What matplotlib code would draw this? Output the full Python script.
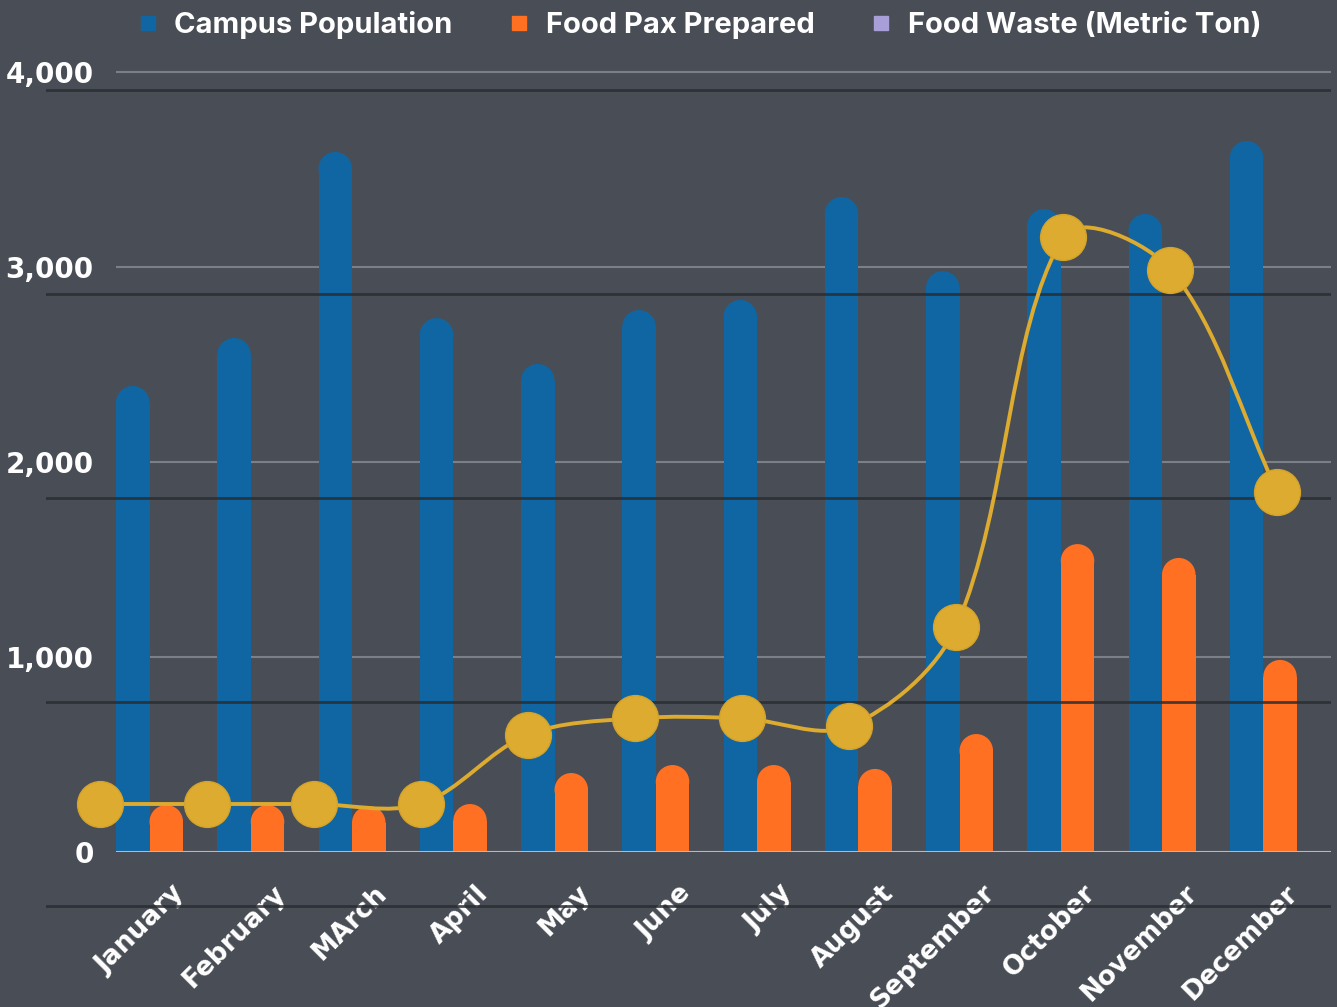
import matplotlib
matplotlib.use("Agg")
import matplotlib.pyplot as plt
from matplotlib.patches import Ellipse
from matplotlib.path import Path
from matplotlib.patches import PathPatch
from matplotlib.lines import Line2D

# data
months = ['January', 'February', 'MArch', 'April', 'May', 'June', 'July',
          'August', 'September', 'October', 'November', 'December']
campus_population = [2390, 2636, 3590, 2738, 2503, 2779, 2831, 3359, 2979, 3297, 3272, 3646]
food_pax = [241, 241, 236, 246, 405, 446, 446, 426, 605, 1579, 1508, 985]
food_waste = [0.50, 0.50, 0.50, 0.50, 0.84, 0.92, 0.92, 0.88, 1.37, 3.28, 3.12, 2.03]

bg = '#494e56'
blue = '#0f66a3'
orange = '#ff7022'
gold = '#dcab2f'
lavender = '#a99fd8'

W, H = 1337, 1007
fig = plt.figure(figsize=(W / 100, H / 100), dpi=100, facecolor=bg)

def px_axes(left, right, y_top, y_bottom):
    return [left / W, 1 - y_bottom / H, (right - left) / W, (y_bottom - y_top) / H]

# primary axes (bars): 0 at y=852px, 4000 at y=72px
ppu = 780 / 4000
y_hi = 4060
ax = fig.add_axes(px_axes(116, 1331, 852 - y_hi * ppu, 852))
ax.set_facecolor('none')
ax.set_xlim(0, 12)
ax.set_ylim(0, y_hi)

bw = 0.331
r_data = (bw * 1215 / 12 / 2) / ppu  # half bar width in px -> data units


def rounded_bars(xs, vals, color):
    bars = ax.bar(xs, [v - r_data for v in vals], width=bw, align='edge',
                  color=color, linewidth=0, zorder=2)
    for b, v in zip(bars, vals):
        cx = b.get_x() + b.get_width() / 2
        ax.add_patch(Ellipse((cx, v - r_data), b.get_width(), 2 * r_data,
                             facecolor=color, edgecolor='none', zorder=2))
    return bars


idx = list(range(len(months)))
rounded_bars([i for i in idx], campus_population, blue)
rounded_bars([i + bw for i in idx], food_pax, orange)

ax.set_yticks([0, 1000, 2000, 3000, 4000])
ax.set_yticklabels(['0', '1,000', '2,000', '3,000', '4,000'])
ax.yaxis.grid(True, color='#7c8086', linewidth=1.5, zorder=0)
ax.set_axisbelow(True)
ax.axhline(0, color='#b9b9bb', linewidth=2.2, zorder=3)
ax.set_xticks([i + 0.5 + 0.14 for i in idx])
ax.set_xticklabels(months, rotation=45, ha='right', va='center',
                   rotation_mode='anchor')
ax.tick_params(axis='both', length=0, colors='white')
ax.tick_params(axis='y', pad=16, labelsize=20)
ax.tick_params(axis='x', pad=27, labelsize=19)
for lab in ax.get_xticklabels() + ax.get_yticklabels():
    lab.set_fontweight('heavy')
    lab.set_family('DejaVu Sans')
for s in ax.spines.values():
    s.set_visible(False)

# secondary axes (line): 0 at y=906px, 4 at y=90px
ppu2 = 204
lo2, hi2 = -0.2, 4.2
ax2 = fig.add_axes(px_axes(46, 1331, 906 - hi2 * ppu2, 906 - lo2 * ppu2))
ax2.set_facecolor('none')
ax2.set_xlim(-0.5, 11.5)
ax2.set_ylim(lo2, hi2)
ax2.set_yticks([0, 1, 2, 3, 4])
ax2.yaxis.grid(True, color='#2a2d31', linewidth=2, alpha=0.85, zorder=0)
ax2.set_xticks([])
ax2.tick_params(axis='y', length=0, labelleft=False)
for s in ax2.spines.values():
    s.set_visible(False)

# smoothed line through the points: cubic bezier with tangents scaled by
# neighbouring segment lengths (measured in screen pixels)
sx = (1331 - 46) / 12.0
sy = float(ppu2)
pts = [(x * sx, y * sy) for x, y in zip(idx, food_waste)]
n = len(pts)
t = 1.0 / 3.0
c_in, c_out = [], []
for i in range(n):
    p0 = pts[max(i - 1, 0)]
    p1 = pts[i]
    p2 = pts[min(i + 1, n - 1)]
    d01 = ((p1[0] - p0[0]) ** 2 + (p1[1] - p0[1]) ** 2) ** 0.5
    d12 = ((p2[0] - p1[0]) ** 2 + (p2[1] - p1[1]) ** 2) ** 0.5
    tot = d01 + d12 if d01 + d12 > 0 else 1
    dx, dy = p2[0] - p0[0], p2[1] - p0[1]
    c_in.append((p1[0] - t * d01 / tot * dx, p1[1] - t * d01 / tot * dy))
    c_out.append((p1[0] + t * d12 / tot * dx, p1[1] + t * d12 / tot * dy))
verts = [pts[0]]
codes = [Path.MOVETO]
for i in range(n - 1):
    verts += [c_out[i], c_in[i + 1], pts[i + 1]]
    codes += [Path.CURVE4] * 3
verts = [(x / sx, y / sy) for x, y in verts]
ax2.add_patch(PathPatch(Path(verts, codes), facecolor='none', edgecolor=gold,
                        linewidth=2.8, zorder=3))
ax2.plot(idx, food_waste, linestyle='none', marker='o', markersize=33,
         markerfacecolor=gold, markeredgecolor='#d4a32a', markeredgewidth=1,
         zorder=4)

# legend
handles = [
    Line2D([], [], linestyle='none', marker='s', markersize=9.5, color=blue),
    Line2D([], [], linestyle='none', marker='s', markersize=9.5, color=orange),
    Line2D([], [], linestyle='none', marker='s', markersize=9.5, color=lavender),
]
labels = ['Campus Population', 'Food Pax Prepared', 'Food Waste (Metric Ton)']
fig.legend(handles, labels, loc='center', bbox_to_anchor=(700 / W, 1 - 25 / H),
           ncol=3, frameon=False, handlelength=0.6, handletextpad=0.6,
           columnspacing=2.0,
           prop={'family': 'Inter', 'weight': 'bold', 'size': 21},
           labelcolor='white')

fig.savefig('out.png', dpi=100, facecolor=bg)
